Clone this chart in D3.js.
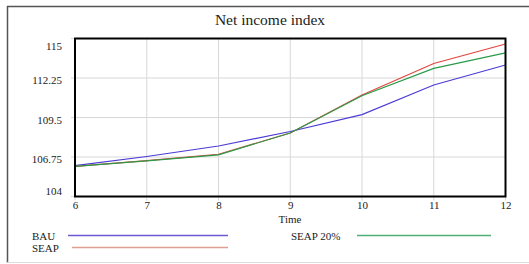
<!DOCTYPE html>
<html>
<head>
<meta charset="utf-8">
<script src="https://cdn.jsdelivr.net/npm/d3@7"></script>
<style>
  body { margin: 0; background: #fff; }
  svg text { font-family: "Liberation Serif", "DejaVu Serif", serif; fill: #222; }
</style>
</head>
<body>
<div id="chart"></div>
<script>
// Chart data
var times = [6, 7, 8, 9, 10, 11, 12];
var bau     = [106.15, 106.78, 107.52, 108.52, 109.7, 111.76, 113.15];
var seap    = [106.1, 106.5, 106.94, 108.42, 111.06, 113.26, 114.62];
var seap20  = [106.1, 106.48, 106.9, 108.42, 111.02, 112.92, 114.0];
var yTicks  = [104, 106.75, 109.5, 112.25, 115];
var xTicks  = [6, 7, 8, 9, 10, 11, 12];

var series = [
    { name: 'BAU',      values: bau,    color: '#4b3bd6', legend: '#7058d4' },
    { name: 'SEAP',     values: seap,   color: '#e2453e', legend: '#e0a090' },
    { name: 'SEAP 20%', values: seap20, color: '#2a9a48', legend: '#4fae76' }
];

var W = 529, H = 264;
var plot = { left: 75, top: 38.5, right: 505.5, bottom: 196.5 };

var svg = d3.select('#chart').append('svg')
            .attr('width', W)
            .attr('height', H);

// outer frame
svg.append('line').attr('x1', 7).attr('y1', 6.5).attr('x2', W).attr('y2', 6.5)
   .attr('stroke', '#555').attr('stroke-width', 1.5);
svg.append('line').attr('x1', 7.5).attr('y1', 6).attr('x2', 7.5).attr('y2', 263)
   .attr('stroke', '#555').attr('stroke-width', 1.5);
svg.append('line').attr('x1', 7).attr('y1', 262.5).attr('x2', W).attr('y2', 262.5)
   .attr('stroke', '#ddd').attr('stroke-width', 1);

var xScale = d3.scaleLinear().domain([6, 12]).range([plot.left, plot.right]);
var yScale = d3.scaleLinear().domain([104, 115]).range([plot.bottom, plot.top]);

// grid
svg.append('g').selectAll('line').data(xTicks).enter().append('line')
   .attr('x1', function (d) { return xScale(d); })
   .attr('x2', function (d) { return xScale(d); })
   .attr('y1', plot.top).attr('y2', plot.bottom + 4)
   .attr('stroke', '#d8d8d8').attr('stroke-width', 1);

svg.append('g').selectAll('line').data(yTicks).enter().append('line')
   .attr('x1', plot.left - 4).attr('x2', plot.right)
   .attr('y1', function (d) { return yScale(d); })
   .attr('y2', function (d) { return yScale(d); })
   .attr('stroke', '#d8d8d8').attr('stroke-width', 1);

// axes (labels only, ticks drawn by grid)
var xAxis = d3.axisBottom(xScale).tickValues(xTicks).tickSize(0).tickPadding(5)
              .tickFormat(d3.format('d'));
var gx = svg.append('g')
   .attr('transform', 'translate(0,' + plot.bottom + ')')
   .call(xAxis);
gx.select('.domain').remove();
gx.selectAll('text').style('font-family', '"Liberation Serif", serif')
  .style('font-size', '11px').attr('fill', '#222');

var yAxis = d3.axisLeft(yScale).tickValues(yTicks).tickSize(0).tickPadding(13)
              .tickFormat(function (d) { return String(d); });
var gy = svg.append('g')
   .attr('transform', 'translate(' + plot.left + ',0)')
   .call(yAxis);
gy.select('.domain').remove();
gy.selectAll('text').style('font-family', '"Liberation Serif", serif')
  .style('font-size', '11px').attr('fill', '#222')
  .attr('dy', function (d) { return d === 115 ? '1.0em' : (d === 104 ? '-0.2em' : '0.5em'); });

// lines
var line = d3.line()
    .x(function (d, i) { return xScale(times[i]); })
    .y(function (d) { return yScale(d); });

series.forEach(function (s) {
    svg.append('path')
       .datum(s.values)
       .attr('fill', 'none')
       .attr('stroke', s.color)
       .attr('stroke-width', 1.1)
       .attr('d', line);
});

// plot frame
svg.append('rect')
   .attr('x', plot.left).attr('y', plot.top)
   .attr('width', plot.right - plot.left).attr('height', plot.bottom - plot.top)
   .attr('fill', 'none').attr('stroke', '#000').attr('stroke-width', 2);

// title and axis label
svg.append('text')
   .attr('x', 270).attr('y', 25)
   .style('text-anchor', 'middle').style('font-size', '15.5px')
   .text('Net income index');

svg.append('text')
   .attr('x', 290).attr('y', 223)
   .style('text-anchor', 'middle').style('font-size', '11px')
   .text('Time');

// legend
var legendPos = [
    { tx: 32, ty: 239.5, x1: 68, x2: 228, y: 235.5 },
    { tx: 32, ty: 251.5, x1: 72, x2: 228, y: 247.5 },
    { tx: 291, ty: 239.5, x1: 357, x2: 491, y: 235.5 }
];
series.forEach(function (s, i) {
    var p = legendPos[i];
    svg.append('text').attr('x', p.tx).attr('y', p.ty)
       .style('font-size', '11px').text(s.name);
    svg.append('line').attr('x1', p.x1).attr('x2', p.x2)
       .attr('y1', p.y).attr('y2', p.y)
       .attr('stroke', s.legend).attr('stroke-width', 1.5);
});
</script>
</body>
</html>
